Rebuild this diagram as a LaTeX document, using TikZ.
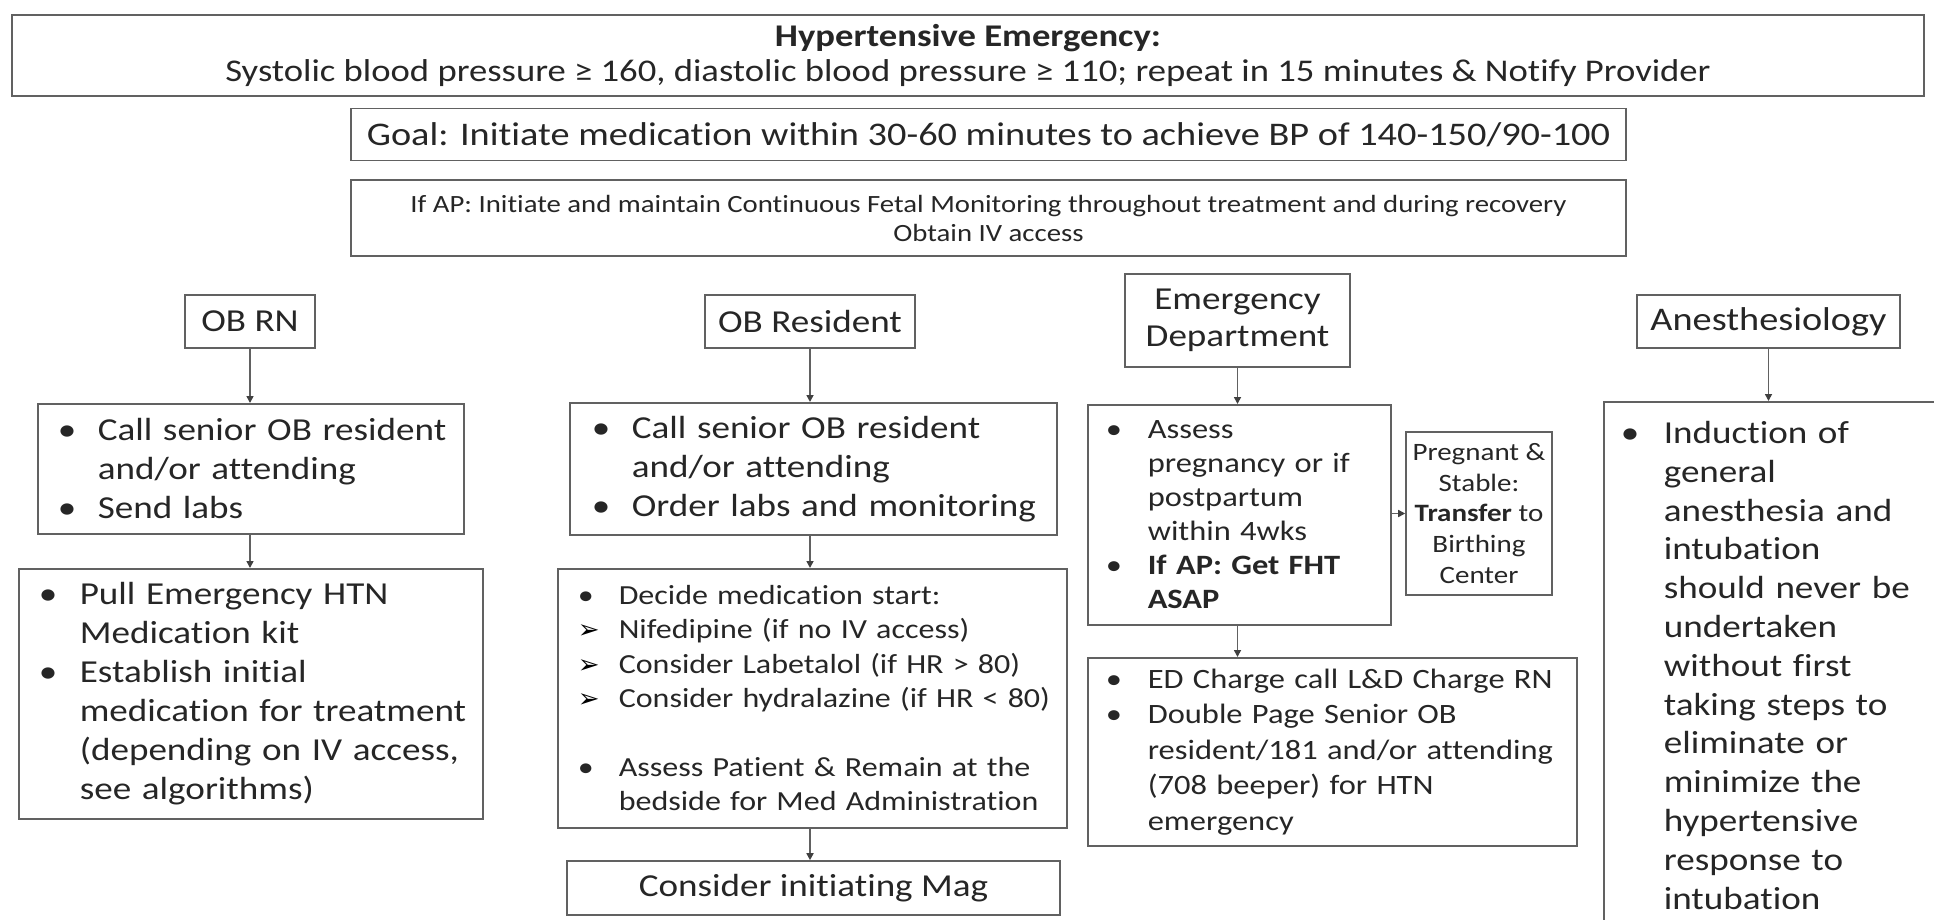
\documentclass[tikz,border=0pt]{standalone}
\usepackage{fontspec}
\setmainfont{Carlito}[FakeStretch=1.16,Ligatures=NoCommon]
\newfontfamily\djv{DejaVu Sans}
\usetikzlibrary{arrows.meta}
\newlength\bi
\newcommand\myb[2][\textbullet]{\noindent\hskip-\bi\makebox[\bi][l]{#1}#2}
\newcommand\arw{{\djv\fontsize{13}{13}\selectfont\color{black}➢}}
\definecolor{linec}{gray}{0.38}
\definecolor{textc}{gray}{0.15}
\begin{document}
\begin{tikzpicture}[x=0.5pt,y=-0.5pt,
  box/.style={draw=linec, line width=0.8pt, text=textc, inner sep=0pt},
  cbox/.style={box, align=center, anchor=center},
  lbox/.style={box, anchor=north west, align=left},
  lm/.style 2 args={execute at begin node={\setlength\bi{#2}\leftskip=\dimexpr#1+#2\relax}},
  arr/.style={draw=linec, line width=0.8pt, -{Triangle[length=3.5pt,width=3.5pt,color=black!75]}},
  f16/.style={font=\fontsize{16}{19.5}\selectfont}]
\useasboundingbox (0,0) rectangle (1934,920);
\clip (0,0) rectangle (1934,920);

\node[cbox, minimum width=956pt, minimum height=40.5pt, font=\fontsize{15.8}{17.5}\selectfont] (top) at (968,55.5)
  {\textbf{Hypertensive Emergency:}\\Systolic blood pressure ≥ 160, diastolic blood pressure ≥ 110; repeat in 15 minutes \& Notify Provider};
\node[cbox, minimum width=637.5pt, minimum height=26pt, font=\fontsize{16.5}{19}\selectfont] (goal) at (988.5,134.5)
  {Goal: Initiate medication within 30-60 minutes to achieve BP of 140-150/90-100};
\node[cbox, minimum width=637.5pt, minimum height=38pt, font=\fontsize{12.4}{14.5}\selectfont] (ifap) at (988.5,218)
  {If AP: Initiate and maintain Continuous Fetal Monitoring throughout treatment and during recovery\\Obtain IV access};

\node[cbox, minimum width=65pt, minimum height=26.5pt, f16] (rnh) at (250,321.5) {OB RN};
\node[cbox, minimum width=105pt, minimum height=26.5pt, f16] (resh) at (810,321.5) {OB Resident};
\node[cbox, minimum width=112.5pt, minimum height=46.5pt, font=\fontsize{16}{18.5}\selectfont] (edh) at (1237.5,320.5) {Emergency\\Department};
\node[cbox, minimum width=131.5pt, minimum height=26.5pt, font=\fontsize{16.5}{19.5}\selectfont] (anh) at (1768.5,321.5) {Anesthesiology};

\node[lbox, text width=213pt, minimum height=65pt, f16, lm={10pt}{20pt}] (rn2) at (37,403)
  {\myb{Call senior OB resident\newline and/or attending}\par\myb{Send labs}};
\node[lbox, text width=232pt, minimum height=125pt, f16, lm={10pt}{20.5pt}] (rn3) at (18,568)
  {\myb{Pull Emergency HTN\newline Medication kit}\par\myb{Establish initial\newline medication for treatment\newline (depending on IV access,\newline see algorithms)}};

\node[lbox, text width=243.5pt, minimum height=66pt, f16, lm={11pt}{20pt}] (res2) at (569,402)
  {\myb{Call senior OB resident\newline and/or attending}\par\myb{Order labs and monitoring}};
\node[lbox, text width=254.5pt, minimum height=129.5pt, font=\fontsize{13.8}{17.2}\selectfont, lm={10pt}{20.5pt}] (res3) at (557,568)
  {\myb{Decide medication start:}\par\myb[\arw]{Nifedipine (if no IV access)}\par\myb[\arw]{Consider Labetalol (if HR > 80)}\par\myb[\arw]{Consider hydralazine (if HR < 80)}\par\vspace{17.2pt}\myb{Assess Patient \& Remain at the\newline bedside for Med Administration}};
\node[cbox, minimum width=246.5pt, minimum height=27pt, f16] (mag) at (813.5,888) {Consider initiating Mag};

\node[lbox, text width=151.5pt, minimum height=110pt, font=\fontsize{14}{17}\selectfont, lm={9pt}{21pt}] (ed2) at (1087,404)
  {\myb{Assess\newline pregnancy or if\newline postpartum\newline within 4wks}\par\myb{\textbf{If AP: Get FHT\newline ASAP}}};
\node[cbox, minimum width=73pt, minimum height=81.5pt, font=\fontsize{12.5}{15.3}\selectfont] (preg) at (1479,513.5)
  {Pregnant \&\\Stable:\\\textbf{Transfer} to\\Birthing\\Center};
\node[lbox, text width=244.5pt, minimum height=94pt, font=\fontsize{14}{17.75}\selectfont, lm={9pt}{21pt}] (ed3) at (1087,657)
  {\myb{ED Charge call L\&D Charge RN}\par\myb{Double Page Senior OB\newline resident/181 and/or attending\newline (708 beeper) for HTN\newline emergency}};

\node[lbox, text width=200pt, minimum height=263.5pt, font=\fontsize{16}{19.4}\selectfont, lm={8.5pt}{21.5pt}] (an2) at (1603,401)
  {\myb{Induction of\newline general\newline anesthesia and\newline intubation\newline should never be\newline undertaken\newline without first\newline taking steps to\newline eliminate or\newline minimize the\newline hypertensive\newline response to\newline intubation}};

\draw[arr] (rnh.south) -- (rnh.south |- rn2.north);
\draw[arr] (rnh.south |- rn2.south) -- (rnh.south |- rn3.north);
\draw[arr] (resh.south) -- (resh.south |- res2.north);
\draw[arr] (resh.south |- res2.south) -- (resh.south |- res3.north);
\draw[arr] (resh.south |- res3.south) -- (resh.south |- mag.north);
\draw[arr] (edh.south) -- (edh.south |- ed2.north);
\draw[arr] (edh.south |- ed2.south) -- (edh.south |- ed3.north);
\draw[arr] (ed2.east |- preg.west) -- (preg.west);
\draw[arr] (anh.south) -- (anh.south |- an2.north);
\end{tikzpicture}
\end{document}
